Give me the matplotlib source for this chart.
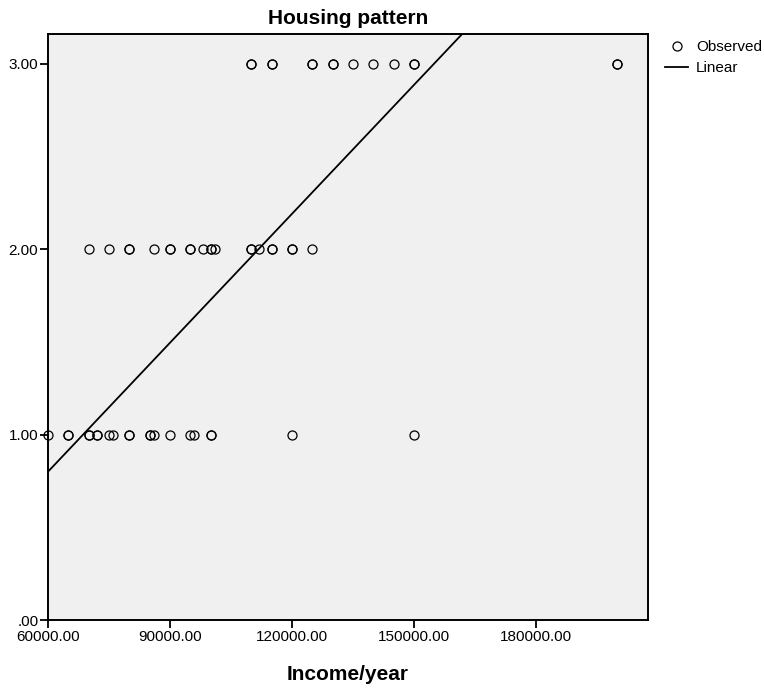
import numpy as np
import matplotlib
matplotlib.use('Agg')
import matplotlib.pyplot as plt
from matplotlib.lines import Line2D

plt.rcParams['font.family'] = ['Liberation Sans', 'DejaVu Sans']

# observed points (income per year, housing pattern), repeats = overlapping points
income_3 = [110000, 110000, 115000, 115000, 125000, 125000, 130000, 130000,
            135000, 140000, 145000, 150000, 150000, 200000, 200000]
income_2 = [70000, 75000, 80000, 80000, 86000, 90000, 90000, 95000, 95000,
            98000, 100000, 100000, 101000, 110000, 110000, 112000, 115000,
            115000, 120000, 120000, 125000]
income_1 = [60000, 65000, 65000, 70000, 70000, 72000, 72000, 75000, 76000,
            80000, 80000, 85000, 85000, 86000, 90000, 95000, 96000,
            100000, 100000, 120000, 150000]

# linear fit
intercept = -0.591
slope = 2.318e-5

x_ticks = [60000, 90000, 120000, 150000, 180000]
x_labels = ['60000.00', '90000.00', '120000.00', '150000.00', '180000.00']
y_ticks = [0, 1, 2, 3]
y_labels = ['.00', '1.00', '2.00', '3.00']

fig = plt.figure(figsize=(7.64, 6.90), dpi=100)
ax = fig.add_axes([0.0628, 0.1014, 0.7853, 0.8493])
ax.set_facecolor('#f0f0f0')

xs = income_3 + income_2 + income_1
ys = [3] * len(income_3) + [2] * len(income_2) + [1] * len(income_1)
ax.plot(xs, ys, linestyle='none', marker='o', markersize=6.5,
        markerfacecolor='none', markeredgecolor='black', markeredgewidth=0.9,
        clip_on=False, zorder=3)

xmin, xmax = 60000, 207500
line_x = np.array([xmin, xmax])
ax.plot(line_x, intercept + slope * line_x, color='black', linewidth=1.3)

ax.set_xlim(xmin, xmax)
ax.set_ylim(0, 3.16)
ax.set_xticks(x_ticks)
ax.set_xticklabels(x_labels)
ax.set_yticks(y_ticks)
ax.set_yticklabels(y_labels)
ax.tick_params(axis='both', direction='out', length=6, width=1.3,
               labelsize=11, pad=1)
for s in ax.spines.values():
    s.set_linewidth(1.4)

ax.set_title('Housing pattern', fontsize=15, fontweight='bold', pad=7)
ax.set_xlabel('Income/year', fontsize=15, fontweight='bold', labelpad=15)

handles = [Line2D([], [], linestyle='none', marker='o', markersize=6.5,
                  markerfacecolor='none', markeredgecolor='black',
                  markeredgewidth=0.9),
           Line2D([], [], color='black', linewidth=1.3)]
ax.legend(handles, ['Observed', 'Linear'], loc='upper left',
          bbox_to_anchor=(1.019, 1.0), frameon=False, fontsize=11,
          handlelength=1.5, handletextpad=0.5, labelspacing=0.45,
          borderaxespad=0)

fig.savefig('out.png', dpi=100)
